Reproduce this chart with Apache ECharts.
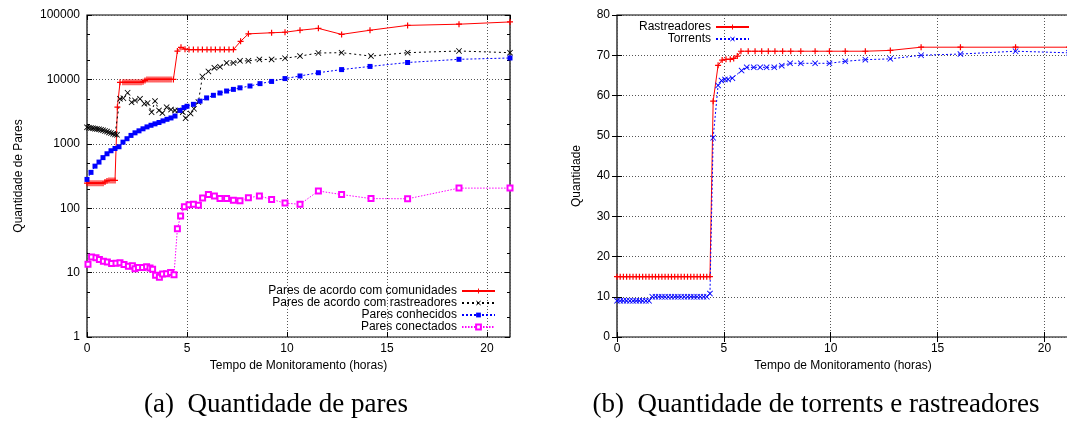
<!DOCTYPE html>
<html>
<head>
<meta charset="utf-8">
<title>Quantidade de pares / torrents</title>
<script src="https://cdn.jsdelivr.net/npm/echarts@6/dist/echarts.min.js"></script>
<style>
  html, body { margin: 0; padding: 0; background: #fff; }
  #grafico { width: 1067px; height: 421px; }
</style>
</head>
<body>
<div id="grafico"></div>
<script>
// ---- dados (horas, valor) ----

// (a) pares
var comunidades = [[0,245],[0.1,245],[0.2,245],[0.3,245],[0.4,245],[0.5,245],[0.6,245],[0.7,245],[0.8,245],
    [0.9,255],[1.0,265],[1.1,270],[1.2,270],[1.3,270],[1.4,270],[1.52,3700],[1.65,9000],[1.8,9000],[1.9,9000],
    [2.0,9000],[2.1,9000],[2.2,9000],[2.3,9000],[2.4,9000],[2.5,9000],[2.6,9000],[2.7,9000],[2.8,9200],[2.9,9600],
    [3.0,10000],[3.1,10000],[3.2,10000],[3.3,10000],[3.4,10000],[3.5,10000],[3.6,10000],[3.7,10000],[3.8,10000],
    [3.9,10000],[4.0,10000],[4.1,10000],[4.2,10000],[4.32,10000],[4.52,27500],[4.7,31500],[4.9,29500],[5.1,29000],
    [5.32,29000],[5.55,29000],[5.77,29000],[6.0,29000],[6.2,29000],[6.42,29000],[6.65,29000],[6.87,29000],[7.1,29000],
    [7.32,29000],[7.68,39000],[8.07,51000],[9.23,53000],[9.9,54000],[10.65,58000],[11.57,62000],[12.73,50000],
    [14.15,58000],[16.03,69000],[18.6,72000],[21.15,78000]];

var rastreadoresPares = [[0,1800],[0.1,1780],[0.2,1760],[0.3,1740],[0.4,1720],[0.5,1700],[0.6,1680],[0.7,1650],
    [0.8,1620],[0.9,1580],[1.0,1550],[1.1,1500],[1.2,1470],[1.3,1430],[1.4,1400],[1.5,1380],[1.65,5000],[1.82,5100],
    [2.03,6200],[2.23,4400],[2.4,4700],[2.65,5000],[2.87,4200],[3.03,4300],[3.23,3100],[3.4,4600],[3.6,3300],
    [3.77,3000],[3.98,3700],[4.2,3400],[4.4,3300],[4.57,3300],[4.79,3100],[4.93,2500],[5.18,2950],[5.35,3500],
    [5.57,4450],[5.77,11100],[6.07,13300],[6.37,15100],[6.65,15700],[6.98,18000],[7.32,18000],[7.65,19400],
    [8.07,19400],[8.62,20400],[9.23,20400],[9.9,21300],[10.65,23000],[11.57,25700],[12.73,26000],[14.2,23000],
    [16.03,26000],[18.6,27600],[21.15,26000]];

var conhecidos = [[0,280],[0.2,360],[0.4,450],[0.6,520],[0.8,610],[1.0,700],[1.2,780],[1.4,845],[1.6,900],
    [1.8,1060],[2.0,1200],[2.2,1350],[2.4,1480],[2.6,1590],[2.8,1710],[3.0,1830],[3.2,1940],[3.4,2040],[3.6,2140],
    [3.8,2270],[4.0,2400],[4.2,2520],[4.4,2700],[4.65,3300],[4.85,3650],[5.0,3830],[5.32,4100],[5.65,4600],
    [5.98,5160],[6.32,5660],[6.65,6150],[6.98,6600],[7.32,7000],[7.65,7400],[8.15,7900],[8.65,8600],[9.23,9300],
    [9.9,10300],[10.65,11300],[11.57,12700],[12.73,14200],[14.15,15900],[16.03,18300],[18.6,20500],[21.15,21500]];

var conectados = [[0.05,13.5],[0.23,17.5],[0.45,17],[0.62,16],[0.82,15],[1.02,14.6],[1.23,13.8],[1.45,14],
    [1.65,14.2],[1.85,13.3],[2.07,12.5],[2.27,12.8],[2.4,11.5],[2.57,12],[2.78,12],[2.98,12.3],[3.15,11.8],
    [3.28,11.3],[3.43,9.1],[3.62,8.5],[3.78,9.5],[3.98,9.6],[4.18,10],[4.35,9.3],[4.52,48],[4.68,76],[4.87,105],
    [5.1,113],[5.32,115],[5.57,111],[5.78,144],[6.07,163],[6.37,155],[6.65,141],[6.98,141],[7.32,133],[7.65,130],
    [8.07,145],[8.62,155],[9.23,137],[9.9,120],[10.65,115],[11.57,185],[12.73,163],[14.2,141],[16.03,140],
    [18.6,205],[21.15,205]];

// (b) torrents e rastreadores
var rastreadores = [[0,15],[0.15,15],[0.3,15],[0.45,15],[0.6,15],[0.75,15],[0.9,15],[1.05,15],[1.2,15],[1.35,15],
    [1.5,15],[1.65,15],[1.8,15],[1.95,15],[2.1,15],[2.25,15],[2.4,15],[2.55,15],[2.7,15],[2.85,15],[3.0,15],
    [3.15,15],[3.3,15],[3.45,15],[3.6,15],[3.75,15],[3.9,15],[4.05,15],[4.2,15],[4.35,15],[4.5,58.6],[4.73,67.5],
    [4.92,68.8],[5.1,69],[5.3,69],[5.46,69.2],[5.63,69.8],[5.8,71],[6.14,71],[6.46,71],[6.77,71],[7.08,71],
    [7.39,71],[7.75,71],[8.13,71],[8.6,71],[9.27,71],[9.94,71],[10.68,71],[11.62,71],[12.79,71.2],[14.23,72],
    [16.07,72],[18.65,72],[21.15,72]];

var torrents = [[0,9],[0.15,9],[0.3,9],[0.45,9],[0.6,9],[0.75,9],[0.9,9],[1.05,9],[1.2,9],[1.35,9],[1.5,9],
    [1.65,10],[1.8,10],[1.95,10],[2.1,10],[2.25,10],[2.4,10],[2.55,10],[2.7,10],[2.85,10],[3.0,10],[3.15,10],
    [3.3,10],[3.45,10],[3.6,10],[3.75,10],[3.9,10],[4.05,10],[4.2,10],[4.35,10.8],[4.5,49.5],[4.73,62.5],
    [4.89,63.7],[5.05,64],[5.2,64],[5.4,64.3],[5.83,66.2],[6.07,67],[6.4,67],[6.7,67],[7.0,67],[7.36,67],
    [7.71,67.4],[8.1,68],[8.6,68],[9.27,68],[9.94,68],[10.68,68.5],[11.62,68.9],[12.79,69.1],[14.23,70],
    [16.07,70.3],[18.65,71],[21.15,70.6]];

var ticksLogMaiores = [1, 10, 100, 1000, 10000, 100000];
var ticksLogMenores = [2, 5, 20, 50, 200, 500, 2000, 5000, 20000, 50000];

var nomesA = ['Pares de acordo com comunidades', 'Pares de acordo com rastreadores', 'Pares conhecidos', 'Pares conectados'];
var nomesB = ['Rastreadores', 'Torrents'];
var legendas = ['(a)  Quantidade de pares', '(b)  Quantidade de torrents e rastreadores'];

var xMax = 21.15;
var fonte = '"Liberation Sans", Arial, Helvetica, sans-serif';
var fonteLegenda = '27px "Liberation Serif", "Times New Roman", serif';
var nomeEixoX = 'Tempo de Monitoramento (horas)';

// simbolos estilo gnuplot
var simboloMais = 'path://M4,0H6V4H10V6H6V10H4V6H0V4H4Z';
var simboloX = 'path://M0,1L1,0L5,4L9,0L10,1L6,5L10,9L9,10L5,6L1,10L0,9L4,5Z';

var textoEixo = { color: '#000', fontSize: 12, fontFamily: fonte };
var grade = { show: true, lineStyle: { color: '#555', type: [1, 2], width: 1 } };

function eixoX(g, pos) {
    var principal = pos === 'bottom';
    return {
        type: 'value', gridIndex: g, position: pos, min: 0, max: xMax, interval: 5,
        axisLine: { show: false },
        axisTick: { show: true, inside: true, length: 5, lineStyle: { color: '#000' } },
        axisLabel: { show: principal, showMaxLabel: false, margin: 6, color: '#000', fontSize: 12, fontFamily: fonte },
        splitLine: principal ? grade : { show: false },
        name: principal ? nomeEixoX : '', nameLocation: 'middle', nameGap: 22,
        nameTextStyle: textoEixo
    };
}

function eixoLog(pos, valores, tam, principal) {
    return {
        type: 'log', logBase: 10, gridIndex: 0, position: pos, min: 1, max: 100000,
        axisLine: { show: false },
        axisTick: valores ? { show: true, inside: true, length: tam, customValues: valores, lineStyle: { color: '#000' } }
                          : { show: true, inside: true, length: tam, lineStyle: { color: '#000' } },
        axisLabel: {
            show: !!principal, margin: 7, color: '#000', fontSize: 12, fontFamily: fonte,
            formatter: function (v) { return String(Math.round(v)); }
        },
        splitLine: principal ? grade : { show: false },
        name: principal ? 'Quantidade de Pares' : '', nameLocation: 'middle', nameGap: 62,
        nameTextStyle: textoEixo
    };
}

function eixoLinear(pos, principal) {
    return {
        type: 'value', gridIndex: 1, position: pos, min: 0, max: 80, interval: 10,
        axisLine: { show: false },
        axisTick: { show: true, inside: true, length: 5, lineStyle: { color: '#000' } },
        axisLabel: { show: principal, margin: 7, color: '#000', fontSize: 12, fontFamily: fonte },
        splitLine: principal ? grade : { show: false },
        name: principal ? 'Quantidade' : '', nameLocation: 'middle', nameGap: 34,
        nameTextStyle: textoEixo
    };
}

function serie(nome, dados, xi, yi, cor, simbolo, tam, tipo) {
    return {
        name: nome, type: 'line', data: dados, xAxisIndex: xi, yAxisIndex: yi,
        symbol: simbolo, symbolSize: tam,
        itemStyle: { color: cor, borderWidth: simbolo === 'emptyRect' ? 1 : 0 },
        lineStyle: { color: cor, width: 1, type: tipo },
        emphasis: { disabled: true },
        animation: false
    };
}

function legenda(nomes, direita, topo) {
    return {
        data: nomes, orient: 'vertical', align: 'right', right: direita, top: topo, padding: 0,
        itemWidth: 33, itemHeight: 6, itemGap: 0,
        textStyle: { color: '#000', fontSize: 12, fontFamily: fonte },
        selectedMode: false
    };
}

var chart = echarts.init(document.getElementById('grafico'), null, { renderer: 'canvas' });

var option = {
    backgroundColor: '#fff',
    animation: false,
    grid: [
        { left: 87, top: 15, width: 423, height: 322, show: true, borderColor: '#000', borderWidth: 1.2,
          backgroundColor: 'transparent', outerBoundsMode: 'none' },
        { left: 617, top: 15, width: 452, height: 322, show: true, borderColor: '#000', borderWidth: 1.2,
          backgroundColor: 'transparent', outerBoundsMode: 'none' }
    ],
    xAxis: [eixoX(0, 'bottom'), eixoX(0, 'top'), eixoX(1, 'bottom'), eixoX(1, 'top')],
    yAxis: [
        eixoLog('left', null, 5, true),
        eixoLog('left', ticksLogMenores, 3, false),
        eixoLog('right', ticksLogMaiores, 5, false),
        eixoLog('right', ticksLogMenores, 3, false),
        eixoLinear('left', true),
        eixoLinear('right', false)
    ],
    legend: [legenda(nomesA, 571, 285), legenda(nomesB, 317, 21)],
    graphic: [
        { type: 'text', x: 276, y: 405,
          style: { text: legendas[0], font: fonteLegenda, align: 'center', verticalAlign: 'middle', fill: '#000' } },
        { type: 'text', x: 816, y: 405,
          style: { text: legendas[1], font: fonteLegenda, align: 'center', verticalAlign: 'middle', fill: '#000' } }
    ],
    series: [
        serie(nomesA[0], comunidades, 0, 0, '#ff0000', simboloMais, 6, 'solid'),
        serie(nomesA[1], rastreadoresPares, 0, 0, '#000000', simboloX, 6, [2, 3]),
        serie(nomesA[2], conhecidos, 0, 0, '#0000ff', 'rect', 5, [2, 2]),
        serie(nomesA[3], conectados, 0, 0, '#ff00ff', 'emptyRect', 5, [1.5, 1.5]),
        serie(nomesB[0], rastreadores, 2, 4, '#ff0000', simboloMais, 6, 'solid'),
        serie(nomesB[1], torrents, 2, 4, '#0000ff', simboloX, 6, [2, 2])
    ]
};

chart.setOption(option);
</script>
</body>
</html>
